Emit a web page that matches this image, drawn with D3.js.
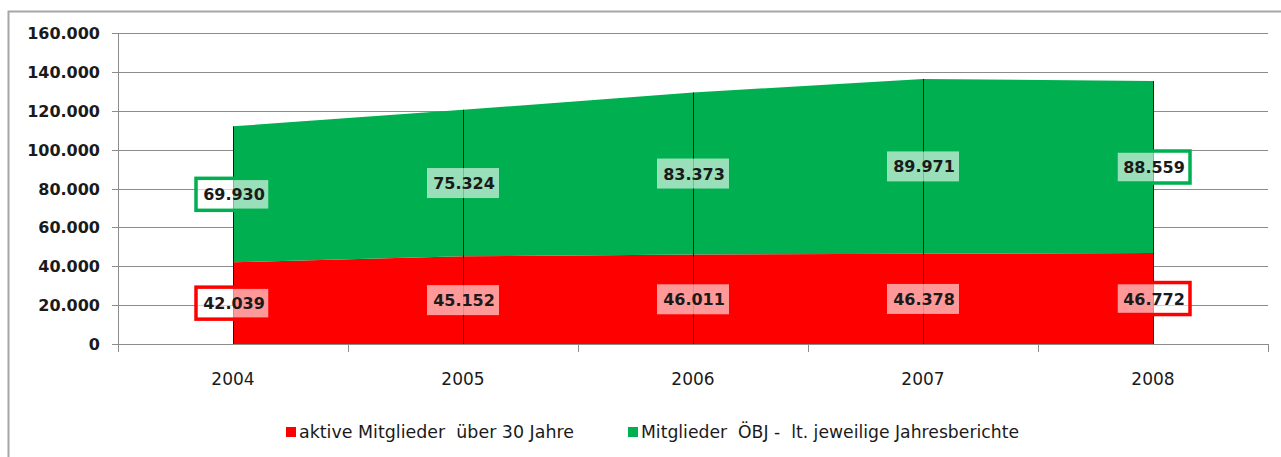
<!DOCTYPE html>
<html>
<head>
<meta charset="utf-8">
<script src="https://cdn.jsdelivr.net/npm/d3@7"></script>
<style>
  html, body { margin: 0; padding: 0; background: #ffffff; }
  svg { display: block; }
  text.legend { white-space: pre; }
</style>
</head>
<body>
<svg id="chart" width="1281" height="457"></svg>
<script>

// ---- data ----
var vsYears = ["2004", "2005", "2006", "2007", "2008"];
var vnAktive = [42039, 45152, 46011, 46378, 46772];
var vnOebj = [69930, 75324, 83373, 89971, 88559];
var vnYTicks = [0, 20000, 40000, 60000, 80000, 100000, 120000, 140000, 160000];
var vsSeriesNames = ["aktive Mitglieder  über 30 Jahre", "Mitglieder  ÖBJ -  lt. jeweilige Jahresberichte"];
var vsSeriesColors = ["#FF0000", "#00B050"];

var g_colorGrid = "#8c8c8c";
var g_sFont = "'DejaVu Sans', sans-serif";

var nLeft = 118, nRight = 1268, nTop = 33, nBottom = 344;

var locale = d3.formatLocale({ decimal: ",", thousands: ".", grouping: [3], currency: ["", " €"] });
var fmt = locale.format(",d");

var svg = d3.select("#chart");

// outer frame
svg.append("rect")
	.attr("x", 8.5).attr("y", 11.5)
	.attr("width", 1300).attr("height", 480)
	.attr("fill", "#ffffff")
	.attr("stroke", "#a6a6a6")
	.attr("stroke-width", 2);

var x = d3.scaleBand().domain(vsYears).range([nLeft, nRight]);
var y = d3.scaleLinear().domain([0, 160000]).range([nBottom, nTop]);

function cx(d) { return x(d) + x.bandwidth() / 2; }

// gridlines
svg.append("g")
	.selectAll("line")
	.data(vnYTicks)
	.enter()
	.append("line")
		.attr("x1", nLeft - 6).attr("x2", nRight)
		.attr("y1", function(d) { return Math.round(y(d)) + 0.5; })
		.attr("y2", function(d) { return Math.round(y(d)) + 0.5; })
		.attr("stroke", g_colorGrid)
		.attr("stroke-width", 1);

// stacked areas
var tjRows = vsYears.map(function(s, i) { return { year: s, a: vnAktive[i], b: vnOebj[i] }; });
var stack = d3.stack().keys(["a", "b"]);
var tjStack = stack(tjRows);

var area = d3.area()
	.x(function(d) { return cx(d.data.year); })
	.y0(function(d) { return y(d[0]); })
	.y1(function(d) { return y(d[1]); });

svg.append("g")
	.selectAll("path")
	.data(tjStack)
	.enter()
	.append("path")
		.attr("d", area)
		.attr("fill", function(d, i) { return vsSeriesColors[i]; });

// drop lines
svg.append("g")
	.selectAll("line")
	.data(tjRows)
	.enter()
	.append("line")
		.attr("x1", function(d) { return Math.round(cx(d.year)) + 0.5; })
		.attr("x2", function(d) { return Math.round(cx(d.year)) + 0.5; })
		.attr("y1", y(0))
		.attr("y2", function(d) { return y(d.a + d.b); })
		.attr("stroke", "#1a1a1a")
		.attr("stroke-width", 1);

// axes lines
svg.append("line")
	.attr("x1", nLeft + 0.5).attr("x2", nLeft + 0.5)
	.attr("y1", nTop).attr("y2", nBottom + 8)
	.attr("stroke", g_colorGrid);

svg.append("line")
	.attr("x1", nLeft).attr("x2", nRight)
	.attr("y1", nBottom + 0.5).attr("y2", nBottom + 0.5)
	.attr("stroke", g_colorGrid);

svg.append("g")
	.selectAll("line")
	.data(vsYears.concat(["end"]))
	.enter()
	.append("line")
		.attr("x1", function(d, i) { return Math.round(nLeft + i * x.step()) + 0.5; })
		.attr("x2", function(d, i) { return Math.round(nLeft + i * x.step()) + 0.5; })
		.attr("y1", nBottom).attr("y2", nBottom + 8)
		.attr("stroke", g_colorGrid);

// y labels
svg.append("g")
	.selectAll("text")
	.data(vnYTicks)
	.enter()
	.append("text")
		.attr("x", 100)
		.attr("y", function(d) { return y(d) + 6; })
		.attr("text-anchor", "end")
		.attr("font-family", g_sFont)
		.attr("font-weight", "bold")
		.attr("font-size", "16px")
		.attr("fill", "#1a1a1a")
		.text(function(d) { return fmt(d); });

// x labels
svg.append("g")
	.selectAll("text")
	.data(vsYears)
	.enter()
	.append("text")
		.attr("x", cx)
		.attr("y", 385)
		.attr("text-anchor", "middle")
		.attr("font-family", g_sFont)
		.attr("font-size", "17px")
		.attr("fill", "#1a1a1a")
		.text(function(d) { return d; });

// data labels
var tjLabels = [];
tjStack.forEach(function(layer, k) {
	layer.forEach(function(d, i) {
		tjLabels.push({
			year: d.data.year,
			value: d[1] - d[0],
			mid: (d[0] + d[1]) / 2,
			series: k,
			edge: (i == 0 || i == vsYears.length - 1)
		});
	});
});

var gLabels = svg.append("g")
	.selectAll("g")
	.data(tjLabels)
	.enter()
	.append("g")
		.attr("transform", function(d) { return "translate(" + cx(d.year) + "," + y(d.mid) + ")"; });

gLabels.append("rect")
	.attr("x", function(d) { return d.edge ? -37 : -36; })
	.attr("y", function(d) { return d.edge ? -16 : -15; })
	.attr("width", function(d) { return d.edge ? 74 : 72; })
	.attr("height", function(d) { return d.edge ? 32 : 30; })
	.attr("fill", "#ffffff")
	.attr("fill-opacity", 0.6)
	.attr("stroke", function(d) { return d.edge ? vsSeriesColors[d.series] : "none"; })
	.attr("stroke-width", 3.5);

gLabels.append("text")
	.attr("x", 1)
	.attr("y", 6)
	.attr("text-anchor", "middle")
	.attr("font-family", g_sFont)
	.attr("font-weight", "bold")
	.attr("font-size", "16px")
	.attr("fill", "#1a1a1a")
	.text(function(d) { return fmt(d.value); });

// legend
var vnLegendX = [286, 628];
var vnLegendW = [275, 378];

var gLegend = svg.append("g")
	.selectAll("g")
	.data(vsSeriesNames)
	.enter()
	.append("g")
		.attr("transform", function(d, i) { return "translate(" + vnLegendX[i] + ",427)"; });

gLegend.append("rect")
	.attr("width", 10).attr("height", 10)
	.attr("fill", function(d, i) { return vsSeriesColors[i]; });

gLegend.append("text")
	.attr("class", "legend")
	.attr("x", 13)
	.attr("y", 11)
	.attr("font-family", g_sFont)
	.attr("font-size", "17px")
	.attr("fill", "#1a1a1a")
	.attr("textLength", function(d, i) { return vnLegendW[i]; })
	.attr("lengthAdjust", "spacingAndGlyphs")
	.text(function(d) { return d; });

</script>
</body>
</html>
